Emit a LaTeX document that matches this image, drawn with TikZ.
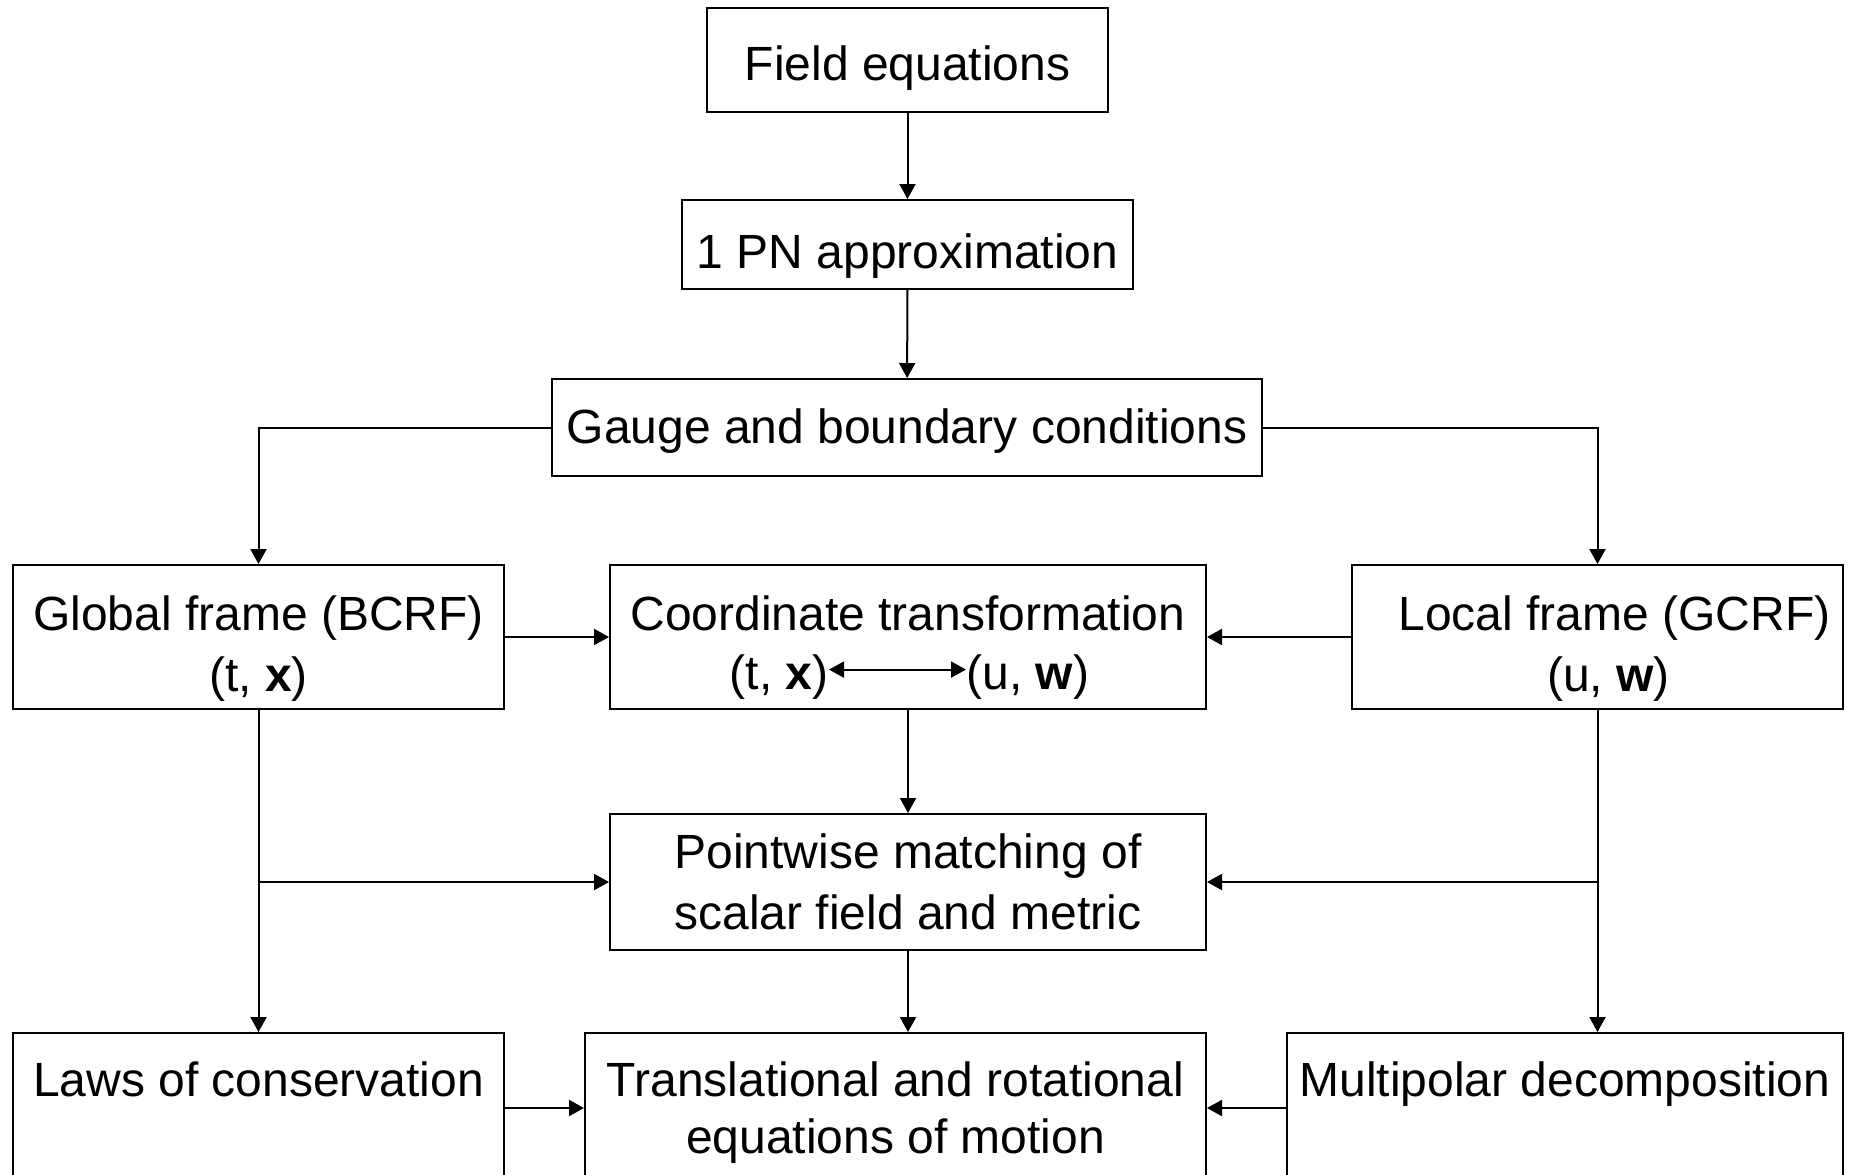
\documentclass[tikz,border=0pt]{standalone}
\usepackage{fontspec}
\setmainfont{Liberation Sans}
\usetikzlibrary{arrows.meta,positioning}
\tikzset{
  ar/.style={-{Triangle[length=7.5pt,width=8pt]},line width=1pt},
  dar/.style={{Triangle[length=7.5pt,width=8pt]}-{Triangle[length=7.5pt,width=8pt]},line width=1pt},
  box/.style={draw,line width=1pt,align=center,inner sep=0pt,font=\fontsize{24}{30.5}\selectfont},
  framebox/.style={box,minimum width=245.5pt,text height=63pt,text depth=9pt},
  lowbox/.style={box,anchor=north,text height=31.5pt,text depth=43.5pt},
  txt/.style={inner sep=0pt,font=\fontsize{24}{29.5}\selectfont}
}

\begin{document}
\begin{tikzpicture}[x=0.5pt,y=-0.5pt]
\useasboundingbox (0,0) rectangle (1856,1174);
% top chain
\node[box,minimum width=200.5pt,text height=36pt,text depth=16pt] (field) at (907.5,60) {Field equations};
\node[box,minimum width=225.5pt,text height=34pt,text depth=10.5pt] (pn) at (907.5,244.5) {1 PN approximation};
\node[box,minimum width=355pt,text height=32pt,text depth=16.5pt] (gauge) at (907,427.5) {Gauge and boundary conditions};
% frames
\node[framebox] (global) at (258.5,637) {Global frame (BCRF)\\(t, \textbf{x})};
\node[box,minimum width=298pt,minimum height=72pt] (coord) at (908,637) {};
\node[txt,anchor=base] (coordtitle) at (908,630) {Coordinate transformation};
\node[txt,anchor=base east] (tx) at (829,689) {(t, \textbf{x})};
\node[txt,anchor=base west] (uw) at (966,689) {(u, \textbf{w})};
\node[framebox] (local) at (1597.5,637) {\hspace*{17pt}Local frame (GCRF)\\\hspace*{11pt}(u, \textbf{w})};
\node[box,minimum width=298pt,minimum height=68pt] (point) at (908,882) {Pointwise matching of\\scalar field and metric};
% results
\node[lowbox,minimum width=245.5pt] (laws) at (258.5,1032) {Laws of conservation};
\node[lowbox,minimum width=310.5pt,text height=60pt,text depth=15pt,font=\fontsize{24}{28.5}\selectfont] (trans) at (895.5,1032) {Translational and rotational\\equations of motion};
\node[lowbox,minimum width=278pt] (multi) at (1565,1032) {Multipolar decomposition};

\draw[dar] ([yshift=3.5pt]tx.east) -- ([yshift=3.5pt]uw.west);
\draw[ar] (field) -- (pn);
\draw[ar] (pn) -- (gauge);
\draw[ar] (gauge.west) -| (global.north);
\draw[ar] (gauge.east) -| (local.north);
\draw[ar] (global) -- (coord);
\draw[ar] (local) -- (coord);
\draw[ar] (coord.south -| point.north) -- (point.north);
\draw[ar] (global.south) -- (global.south |- laws.north);
\draw[ar] (global.south |- point.west) -- (point.west);
\draw[ar] (local.south) -- (local.south |- multi.north);
\draw[ar] (local.south |- point.east) -- (point.east);
\draw[ar] (point.south) -- (point.south |- trans.north);
\draw[ar] (laws.east) -- (trans.west);
\draw[ar] (multi.west) -- (trans.east);
\end{tikzpicture}
\end{document}
